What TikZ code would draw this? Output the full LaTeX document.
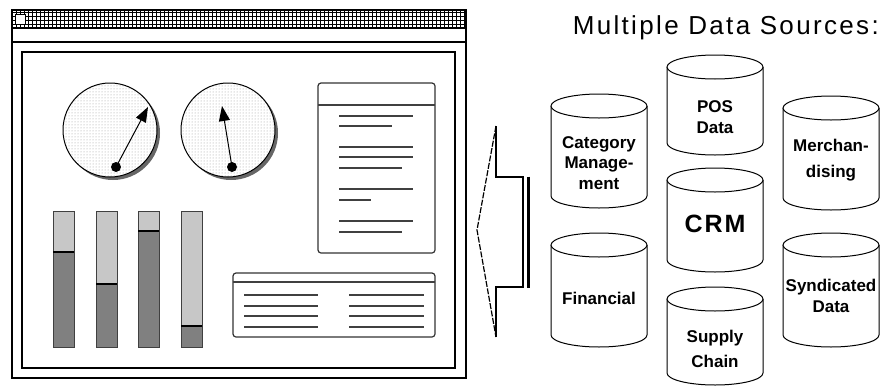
\documentclass[tikz,border=0pt]{standalone}
\usepackage{fontspec}
\setmainfont{Liberation Sans}
\usetikzlibrary{arrows.meta,patterns}

\tikzset{
  frame/.style={draw=black, line width=1.2pt},
  panel/.style={draw=black!80, line width=1.2pt, rounded corners=3pt, fill=white},
  textline/.style={draw=black!75, line width=1.2pt},
  dial/.style={draw=black, line width=1pt, preaction={fill=white}, pattern=dots, pattern color=black!40},
  barempty/.style={draw=black!75, line width=1pt, fill=black!22},
  barfull/.style={draw=black!75, line width=1pt, fill=black!50},
  needle/.style={line width=1pt, -{Triangle[length=15pt,width=11pt]}},
  cyl/.style={draw=black, line width=1pt, fill=white},
  dbname/.style={font=\bfseries\fontsize{17}{20.5}\selectfont, align=center},
}

% database cylinder: name, left x, top y, bottom y, label y, label
\newcommand{\dbcyl}[6]{%
  \draw[cyl] (#2,#3) -- (#2,#4) arc[start angle=180, end angle=0, x radius=48, y radius=12] -- (#2+96,#3);
  \draw[cyl] (#2+48,#3) ellipse[x radius=48, y radius=12];
  \node[dbname] (#1) at (#2+48,#5) {#6};
}

\begin{document}
\begin{tikzpicture}[x=1pt, y=-1pt]
    \useasboundingbox (0,0) rectangle (881,386);

    % Window
    \draw[frame] (12,10) rectangle (466,378);
    \draw[black, line width=0.7pt, step=4pt] (12,10) grid (466,28);
    \draw[frame] (12,10) -- (466,10);
    \draw[frame] (12,28) -- (466,28);
    \draw[frame] (12,42) -- (466,42);
    \draw[fill=white, line width=1pt] (15,14) rectangle (25,24);
    \draw[frame] (22,52) rectangle (455,368);

    % Dials
    \fill[black!60] (113,133) circle[radius=47];
    \draw[dial] (110,130) circle[radius=47];
    \fill[black!60] (231,133) circle[radius=47];
    \draw[dial] (228,130) circle[radius=47];

    \coordinate (pivotA) at (116,167);
    \coordinate (tipA) at (148,107);
    \coordinate (pivotB) at (232,167);
    \coordinate (tipB) at (222,106);
    \draw[needle] (pivotA) -- (tipA);
    \draw[needle] (pivotB) -- (tipB);
    \fill (pivotA) circle[radius=5];
    \fill (pivotB) circle[radius=5];

    % Bars
    \foreach \bx/\lvl in {53/252, 96/284, 138/231, 181/326} {
      \draw[barempty] (\bx,211) rectangle (\bx+21,\lvl);
      \draw[barfull] (\bx,\lvl) rectangle (\bx+21,347);
      \draw[line width=2pt] (\bx,\lvl) -- (\bx+21,\lvl);
    }

    % Notes panel
    \draw[panel] (318,83) rectangle (435,253);
    \draw[textline] (318,105) -- (435,105);
    \foreach \ly/\lx in {116/413, 126/392, 147/413, 157/413, 168/402, 189/413, 200/371, 221/413, 232/402}
      \draw[textline] (339,\ly) -- (\lx,\ly);

    % Table panel
    \draw[panel] (233,273) rectangle (435,337);
    \draw[textline] (233,282) -- (435,282);
    \foreach \ly in {295,306,316,327} {
      \draw[textline] (244,\ly) -- (318,\ly);
      \draw[textline] (349,\ly) -- (424,\ly);
    }

    % Big arrow
    \draw[line width=1.2pt, dash pattern=on 6pt off 1.5pt] (496,126) -- (477,230) -- (496,337);
    \draw[line width=1.2pt] (496,126) -- (496,177) -- (523,177) -- (523,287) -- (496,287) -- (496,337);
    \draw[line width=3pt] (528.5,176.5) -- (528.5,288);

    % Title
    \node[anchor=base east, inner sep=0pt, font=\fontsize{26}{30}\selectfont\addfontfeatures{LetterSpace=9}] (title) at (879,34) {Multiple Data Sources:};

    % Data sources
    \dbcyl{cat}{551}{106}{196}{163}{Category\\Manage-\\ment}
    \dbcyl{pos}{667}{67}{143}{117}{POS\\Data}
    \dbcyl{merch}{783}{108}{198}{160}{Merchan-\\[5pt]dising}
    \dbcyl{crm}{667}{180}{260}{224}{\fontsize{25}{28}\selectfont\addfontfeatures{LetterSpace=8}CRM}
    \dbcyl{fin}{551}{245}{335}{298}{Financial}
    \dbcyl{sup}{667}{299}{373}{349}{Supply\\[4pt]Chain}
    \dbcyl{syn}{783}{245}{335}{296}{Syndicated\\Data}

\end{tikzpicture}
\end{document}
